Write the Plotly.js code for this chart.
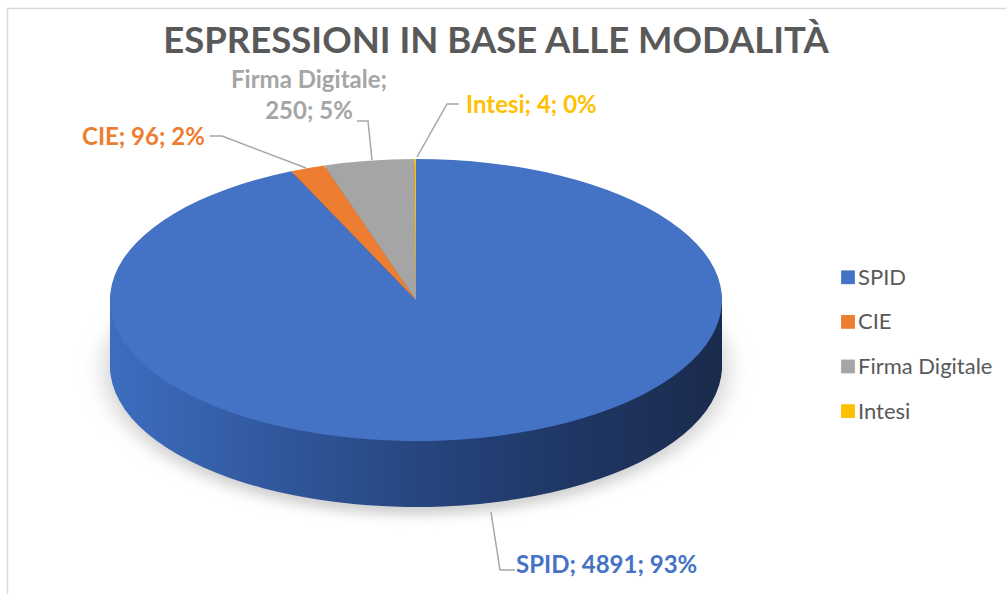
<!DOCTYPE html>
<html><head><meta charset="utf-8">
<script src="https://cdn.plot.ly/plotly-3.0.1.min.js"></script>
<style>html,body{margin:0;padding:0;background:#fff;} #chart{width:1006px;height:594px;}</style>
</head><body><div id="chart"></div>
<script>
// ---- data ----
const categories = ['SPID', 'CIE', 'Firma Digitale', 'Intesi'];
const values = [4891, 96, 250, 4];
const colors = ['#4472C4', '#ED7D31', '#A5A5A5', '#FFC000'];
const sideColors = ['#2b4b88', '#b05a1e', '#7b7b7b', '#bf9000'];
const labelColors = ['#4472C4', '#ED7D31', '#A5A5A5', '#FFC000'];
const titleText = 'ESPRESSIONI IN BASE ALLE MODALITÀ';

// ---- layout helpers (pixels -> paper) ----
const W = 1006, H = 594;
const PX = x => x / W, PY = y => 1 - y / H;

// 3D-look ellipse geometry (px)
const CX = 416, CY = 300, RX = 306, RY = 141, DEPTH = 66, STEP = 3;

const total = values.reduce((a, b) => a + b, 0);
const pct = values.map(v => Math.round(v / total * 100));
const legendLabels = categories.map(c => '<span style="font-size:22px">' + c + '</span>');

const dom = {x: [0.3, 0.5], y: [0.3, 0.66]};
const traces = [];
const offsets = [];
const roles = [];
function pieTrace(cols, show) {
  return {type: 'pie', labels: legendLabels, values: values, sort: false, direction: 'clockwise',
    rotation: 0, marker: {colors: cols, line: {width: 0}}, textinfo: 'none', hoverinfo: 'skip',
    showlegend: show, domain: dom};
}
// shadow
traces.push(pieTrace(categories.map(() => '#cfcfcf'), false)); offsets.push(DEPTH + 4); roles.push('shadow');
for (let d = DEPTH; d > 0; d -= STEP) { traces.push(pieTrace(sideColors, false)); offsets.push(d); roles.push('side'); }
traces.push(pieTrace(colors, true)); offsets.push(0); roles.push('top');

const labelPos = [[606, 563], [143, 135], [309, 94], [531, 104]];
const annotations = categories.map((c, i) => ({
  text: c + ';' + (c.length > 10 ? '<br>' : ' ') + values[i] + '; ' + pct[i] + '%',
  x: PX(labelPos[i][0]), y: PY(labelPos[i][1]), xref: 'paper', yref: 'paper',
  xanchor: 'center', yanchor: 'middle', showarrow: false,
  font: {family: 'Lato, sans-serif', size: 24, color: labelColors[i], weight: 'bold'}
}));

function pth(pts) { return pts.map((p, i) => (i ? 'L' : 'M') + PX(p[0]) + ',' + PY(p[1])).join(' '); }
const leaders = [
  [[515, 570], [500, 570], [491, 512]],
  [[210, 136], [222, 136], [306, 168]],
  [[357, 121], [368, 121], [372, 160]],
  [[459, 104], [447, 104], [417, 157]]
];
const shapes = leaders.map(l => ({type: 'path', xref: 'paper', yref: 'paper', path: pth(l),
  line: {color: '#a6a6a6', width: 1.5}}));
shapes.push({type: 'rect', xref: 'paper', yref: 'paper', x0: PX(7.5), y0: PY(8.5), x1: 1.02, y1: -0.02,
  line: {color: '#d9d9d9', width: 1.5}});

const layout = {
  width: W, height: H, margin: {l: 0, r: 0, t: 0, b: 0},
  paper_bgcolor: '#ffffff', plot_bgcolor: '#ffffff',
  font: {family: 'Lato, sans-serif', color: '#595959'},
  title: {text: titleText, font: {family: 'Lato, sans-serif', size: 36.5, color: '#595959', weight: 'bold'},
    x: PX(496), xanchor: 'center', y: PY(40), yanchor: 'middle'},
  legend: {x: PX(818), xanchor: 'left', y: PY(250), yanchor: 'top', itemwidth: 30,
    font: {family: 'Lato, sans-serif', size: 32, color: '#595959'}, bgcolor: 'rgba(0,0,0,0)'},
  annotations: annotations,
  shapes: shapes
};

const gd = document.getElementById('chart');
Plotly.newPlot(gd, traces, layout, {staticPlot: true}).then(() => {
  const ns = 'http://www.w3.org/2000/svg';
  const svg = gd.querySelector('.main-svg');
  let defs = svg.querySelector('defs');
  if (!defs) { defs = document.createElementNS(ns, 'defs'); svg.insertBefore(defs, svg.firstChild); }
  const grad = document.createElementNS(ns, 'linearGradient');
  grad.setAttribute('id', 'sideGradBlue');
  grad.setAttribute('x1', '0'); grad.setAttribute('x2', '1'); grad.setAttribute('y1', '0'); grad.setAttribute('y2', '0');
  [[0, '#3e6dbf'], [0.3, '#2f5599'], [0.6, '#233f74'], [1, '#1a2a4c']].forEach(([o, c]) => {
    const s = document.createElementNS(ns, 'stop'); s.setAttribute('offset', o); s.setAttribute('stop-color', c); grad.appendChild(s);
  });
  defs.appendChild(grad);
  const groups = gd.querySelectorAll('.pielayer .trace');
  groups.forEach((g, i) => {
    const bb = g.getBBox();
    const cx = bb.x + bb.width / 2, cy = bb.y + bb.height / 2, r = bb.width / 2;
    const off = offsets[i];
    const grow = roles[i] === 'shadow' ? 4 : 0;
    g.setAttribute('transform', 'translate(' + CX + ',' + (CY + off) + ') scale(' + ((RX + grow) / r) + ',' + ((RY + grow) / r) + ') translate(' + (-cx) + ',' + (-cy) + ')');
    if (roles[i] === 'side') {
      const p = g.querySelector('.slice path.surface'); if (p) p.style.fill = 'url(#sideGradBlue)';
    }
    if (roles[i] === 'shadow') g.style.filter = 'blur(4px)';
  });
  gd.querySelectorAll('.legend .legendtext').forEach(t => {
    const y = parseFloat(t.getAttribute('y') || 0); t.setAttribute('y', y - 5);
  });
  gd.querySelectorAll('.legend .legendpoints').forEach(lp => {
    const bb = lp.getBBox();
    const mx = bb.x + bb.width / 2, my = bb.y + bb.height / 2;
    lp.setAttribute('transform', 'translate(' + (mx + 10) + ',' + my + ') scale(1.15) translate(' + (-mx) + ',' + (-my) + ')');
  });
});
</script></body></html>
